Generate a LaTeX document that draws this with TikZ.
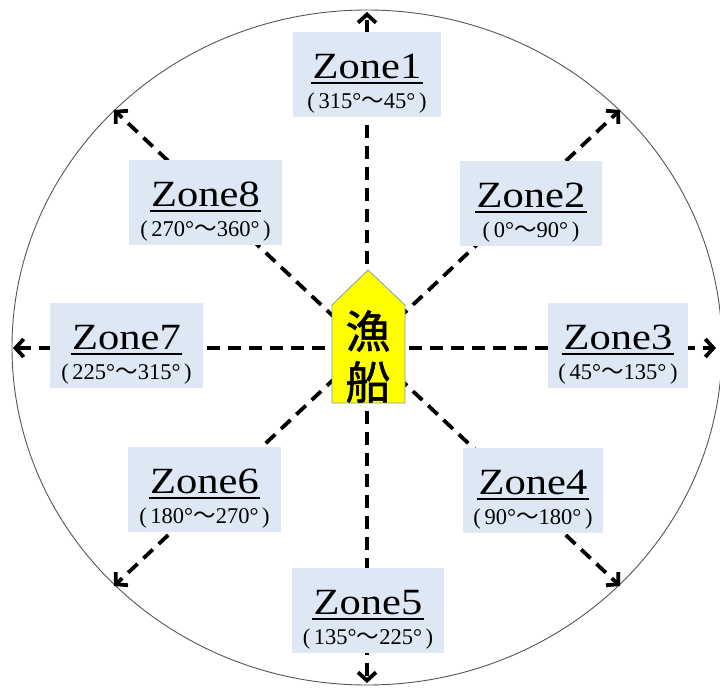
\documentclass[tikz,border=0pt]{standalone}
\usepackage{fontspec}
\setmainfont{Liberation Serif}
\newfontfamily\titlefont[FakeStretch=1.15]{Liberation Serif}
\newfontfamily\cjk{Noto Sans CJK JP}
\newfontfamily\cjkheavy[FakeBold=1.2]{Noto Sans CJK JP}
\usetikzlibrary{calc}
\definecolor{zonefill}{HTML}{DDE8F4}
\definecolor{boatyellow}{HTML}{FFFF00}
\definecolor{boatedge}{HTML}{7F9DBF}
\definecolor{rimgray}{HTML}{555555}
\newcommand{\wave}{{\cjk ～}}
\begin{document}
\begin{tikzpicture}[x=1pt,y=-1pt,
  zonebox/.style={rectangle,fill=zonefill,inner sep=0pt,minimum height=85pt},
  zonetitle/.style={anchor=base,inner sep=0pt,font=\titlefont\fontsize{37}{37}\selectfont},
  zonesub/.style={anchor=base,inner sep=0pt,font=\fontsize{22.5}{22.5}\selectfont},
  uline/.style={line width=2pt},
  dashline/.style={line width=3.8pt,dash pattern=on 13pt off 8pt},
  chevron/.style={line width=3.8pt,line join=miter},
  rim/.style={draw=rimgray,line width=0.9pt},
  boat/.style={fill=boatyellow,draw=boatedge,line width=0.8pt},
  boattext/.style={inner sep=0pt,font=\cjkheavy\fontsize{45}{45}\selectfont}
]
\useasboundingbox (0,0) rectangle (720,688);
\fill[white] (0,0) rectangle (720,688);

% rim
\draw[rim] (367,347.5) ellipse [x radius=355pt, y radius=337.5pt];

% centre and arrow tips
\coordinate (c) at (367,348);
\coordinate (t1) at (367,12);
\coordinate (t2) at (620,110);
\coordinate (t3) at (716,348);
\coordinate (t4) at (620,586);
\coordinate (t5) at (367,683);
\coordinate (t6) at (114,586);
\coordinate (t7) at (13,348);
\coordinate (t8) at (114,110);

\foreach \i in {1,...,8}{
  \draw[dashline] (c) -- ($(t\i)!3pt!(c)$);
  \draw[chevron] ($(t\i)!14pt!40:(c)$) -- ($(t\i)!2.5pt!(c)$) -- ($(t\i)!14pt!-40:(c)$);
}

% boat
\draw[boat] (332,305) -- (368,270) -- (405,305) -- (405,403) -- (332,403) -- cycle;
\node[boattext] (b1) at (368,331) {漁};
\node[boattext] (b2) at (368,382) {船};

% zones: name, centre x, top y, width, from, to
\foreach \n/\cx/\ty/\w/\a/\b in {
  1/367/32/148/315/45,
  2/531/161/142/0/90,
  3/618/303/140/45/135,
  4/533/448/140/90/180,
  5/368/568/152/135/225,
  6/204.5/447/153/180/270,
  7/126.5/303/153/225/315,
  8/205.5/160/153/270/360}{
  \node[zonebox,minimum width=\w pt] (zb\n) at (\cx,\ty+42.5) {};
  \node[zonetitle] (zt\n) at (\cx,\ty+46) {Zone\n};
  \draw[uline] ([yshift=-5pt,xshift=-1pt]zt\n.base west) -- ([yshift=-5pt,xshift=1pt]zt\n.base east);
  \node[zonesub] (zs\n) at (\cx,\ty+76) {(\,\a°\wave\b°\,)};
}
\end{tikzpicture}
\end{document}
